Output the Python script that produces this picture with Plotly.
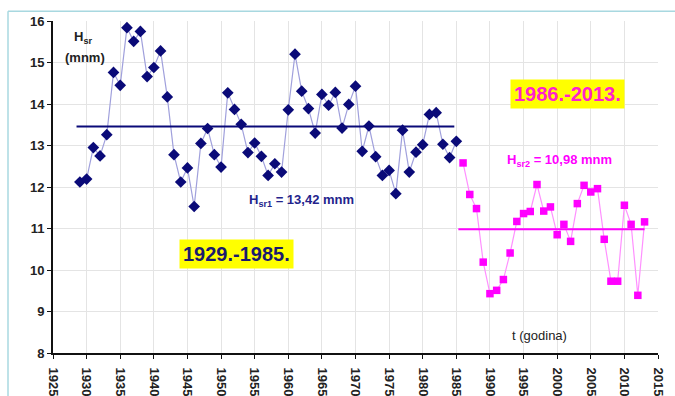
import plotly.graph_objects as go

# ---- data ----
years1 = list(range(1929, 1986))
h1 = [12.12, 12.19, 12.95, 12.75, 13.26, 14.76, 14.45, 15.84, 15.51, 15.75,
      14.66, 14.88, 15.28, 14.17, 12.78, 12.12, 12.46, 11.53, 13.05, 13.41,
      12.78, 12.48, 14.27, 13.87, 13.51, 12.83, 13.06, 12.74, 12.28, 12.56,
      12.36, 13.86, 15.20, 14.31, 13.89, 13.30, 14.23, 13.97, 14.28, 13.42,
      13.99, 14.43, 12.86, 13.47, 12.73, 12.28, 12.40, 11.84, 13.37, 12.36,
      12.84, 13.02, 13.75, 13.79, 13.03, 12.71, 13.10]
years2 = list(range(1986, 2014))
h2 = [12.58, 11.82, 11.48, 10.19, 9.43, 9.51, 9.77, 10.41, 11.17, 11.36,
      11.41, 12.06, 11.42, 11.52, 10.85, 11.10, 10.69, 11.60, 12.04, 11.88,
      11.96, 10.74, 9.73, 9.73, 11.56, 11.10, 9.39, 11.16]
mean1_x = [1928.5, 1984.7]
mean1_y = [13.46, 13.46]
mean2_x = [1985.3, 2013.0]
mean2_y = [10.98, 10.98]
x_ticks = list(range(1925, 2016, 5))
y_ticks = list(range(8, 17))

navy = "#0a0a78"
mag = "#ff00ff"

fig = go.Figure()
fig.add_trace(go.Scatter(x=years1, y=h1, mode="lines+markers",
                         line=dict(color="#a0a0dc", width=1.2),
                         marker=dict(symbol="diamond", size=9, color=navy)))
fig.add_trace(go.Scatter(x=years2, y=h2, mode="lines+markers",
                         line=dict(color="#ff90ff", width=1.2),
                         marker=dict(symbol="square", size=7.5, color=mag)))
fig.add_trace(go.Scatter(x=mean1_x, y=mean1_y, mode="lines",
                         line=dict(color=navy, width=2)))
fig.add_trace(go.Scatter(x=mean2_x, y=mean2_y, mode="lines",
                         line=dict(color=mag, width=2)))

fig.update_layout(
    width=675, height=396,
    margin=dict(l=53, r=17, t=21, b=43, autoexpand=False),
    paper_bgcolor="white", plot_bgcolor="white",
    showlegend=False,
    xaxis=dict(range=[1925, 2015], tickvals=x_ticks, tickangle=90,
               automargin=False,
               showgrid=True, gridcolor="#e4e4e4", gridwidth=1,
               showline=True, linecolor="#111", linewidth=2,
               ticks="outside", ticklen=4, tickcolor="#111",
               ticklabelstandoff=6,
               tickfont=dict(family="Arial, Liberation Sans", size=13, color="#222", weight="bold"),
               zeroline=False),
    yaxis=dict(range=[8, 16], tickvals=y_ticks, automargin=False,
               showgrid=True, gridcolor="#e4e4e4", gridwidth=1,
               showline=True, linecolor="#111", linewidth=2,
               ticks="outside", ticklen=4, tickcolor="#111",
               tickfont=dict(family="Arial, Liberation Sans", size=13, color="#222", weight="bold"),
               zeroline=False),
    font=dict(family="Arial, Liberation Sans"),
)

# outer light-blue frame (top and left)
fig.add_shape(type="line", xref="paper", yref="paper",
              x0=-45/605, x1=1.05, y0=1.029, y1=1.029,
              line=dict(color="#a8d8e0", width=1.5))
fig.add_shape(type="line", xref="paper", yref="paper",
              x0=-45/605, x1=-45/605, y0=1.029, y1=-0.2,
              line=dict(color="#a8d8e0", width=1.5))

fig.add_annotation(x=1929.4, y=15.6, xref="x", yref="y", showarrow=False,
                   text="H<sub>sr</sub>", font=dict(size=13, color="#222", weight="bold"))
fig.add_annotation(x=1929.7, y=15.13, xref="x", yref="y", showarrow=False,
                   text="(mnm)", font=dict(size=13, color="#222", weight="bold"))
fig.add_annotation(x=1962.0, y=11.68, xref="x", yref="y", showarrow=False,
                   text="H<sub>sr1</sub> = 13,42 mnm",
                   font=dict(size=13, color="#23238c", weight="bold"))
fig.add_annotation(x=2000.4, y=12.64, xref="x", yref="y", showarrow=False,
                   text="H<sub>sr2</sub> = 10,98 mnm",
                   font=dict(size=13, color=mag, weight="bold"))
fig.add_annotation(x=1952.3, y=10.38, xref="x", yref="y", showarrow=False,
                   text="1929.-1985.", bgcolor="#ffff00", borderpad=3,
                   font=dict(size=20, color="#1a1a6e", weight="bold"))
fig.add_annotation(x=2001.6, y=14.23, xref="x", yref="y", showarrow=False,
                   text="1986.-2013.", bgcolor="#ffff00", borderpad=3,
                   font=dict(size=20, color="#ff22cc", weight="bold"))
fig.add_annotation(x=1997.4, y=8.43, xref="x", yref="y", showarrow=False,
                   text="t (godina)", font=dict(size=13, color="#222"))

fig.write_html("out.html")
